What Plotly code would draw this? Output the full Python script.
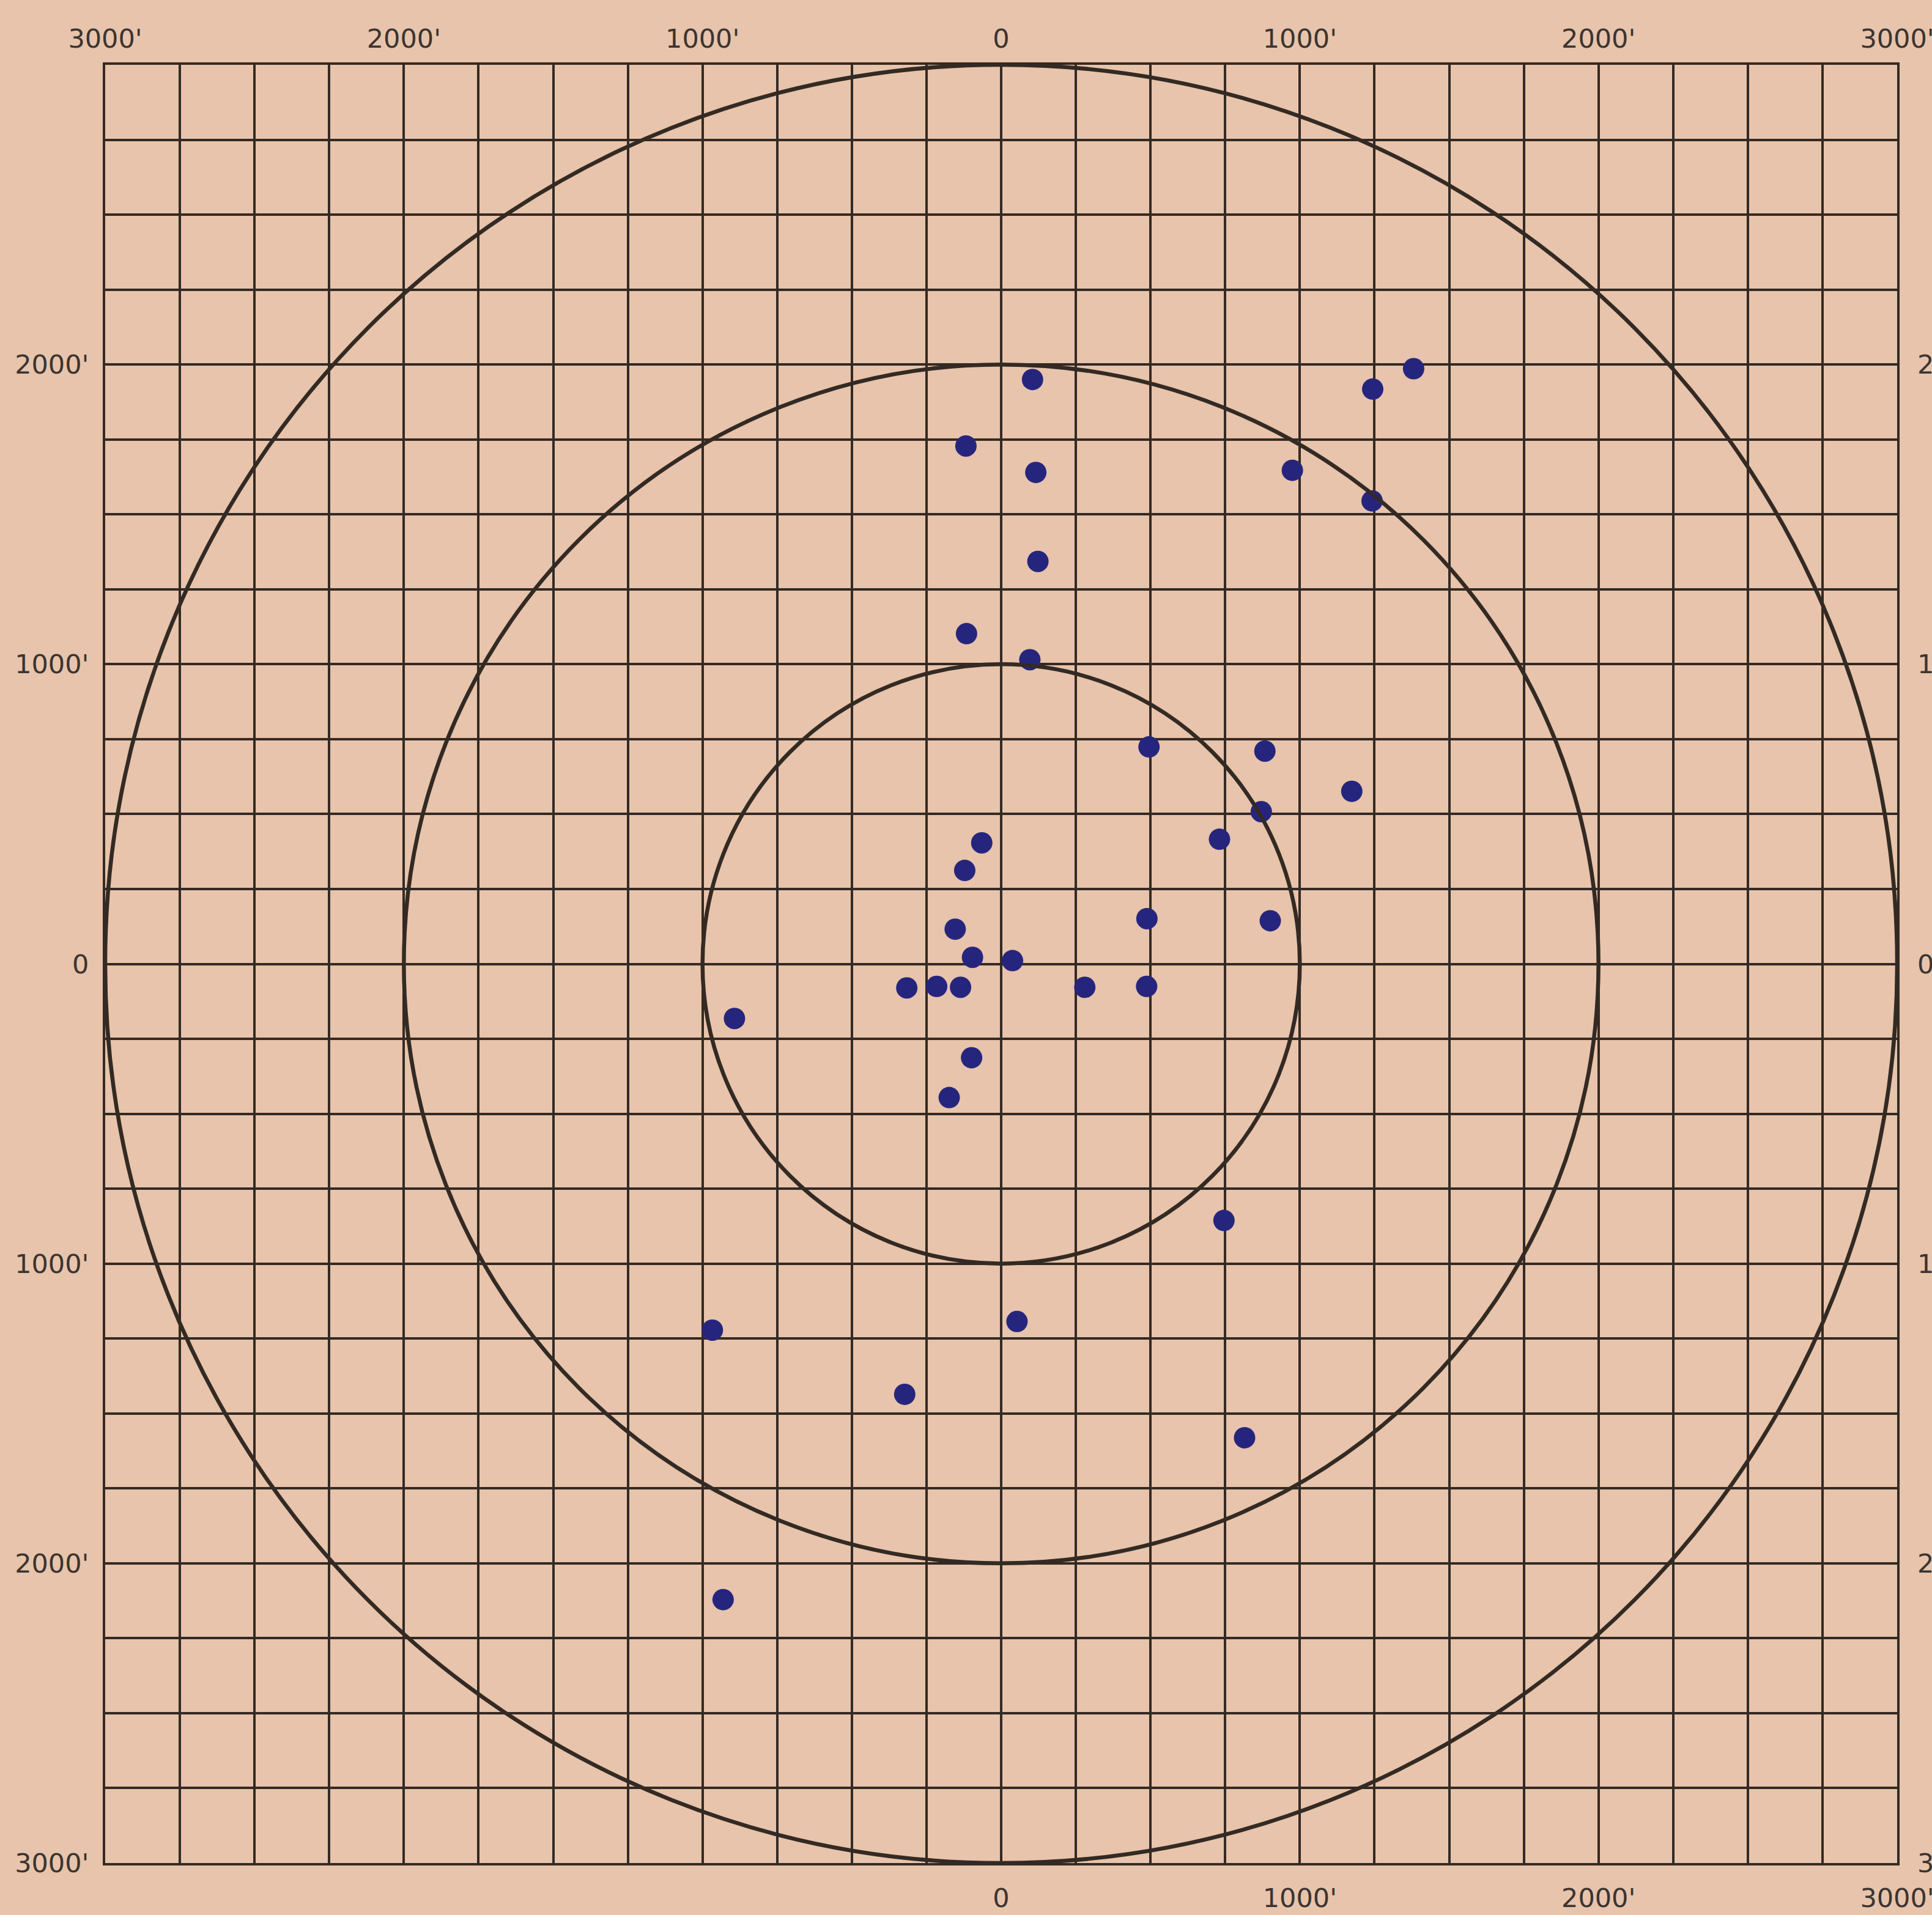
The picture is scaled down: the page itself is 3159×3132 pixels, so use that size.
import plotly.graph_objects as go

# ---- data (feet from target centre) ----
impact_x = [105, -118, 116, 123, -116, 96, 1381, 1244, 975, 1242, 495, 883, 1174, 871, 731,
            -65, -122, 488, 901, -154, -96, 38, -316, -216, -136, 280, 487, -893, -99, -174,
            746, 53, -967, -323, 815, -931]
impact_y = [1950, 1728, 1640, 1343, 1102, 1015, 1986, 1918, 1647, 1545, 724, 710, 576, 508, 416,
            404, 312, 151, 144, 116, 22, 11, -80, -75, -78, -78, -75, -182, -313, -446,
            -856, -1193, -1222, -1436, -1581, -2121]

ring_radii = [1000, 2000, 3000]

top_ticks = [-3000, -2000, -1000, 0, 1000, 2000, 3000]
top_labels = ["3000'", "2000'", "1000'", "0", "1000'", "2000'", "3000'"]
bottom_ticks = [0, 1000, 2000, 3000]
bottom_labels = ["0", "1000'", "2000'", "3000'"]
side_ticks = [2000, 1000, 0, -1000, -2000, -3000]
side_labels = ["2000'", "1000'", "0", "1000'", "2000'", "3000'"]

# ---- style ----
PAPER = "#E7C4AB"
INK = "#342a24"
DOT = "#26257e"
FONT = dict(family="DejaVu Sans", size=43, color="#3b3431")
W, H = 3159, 3132

fig = go.Figure()
fig.add_trace(go.Scatter(x=impact_x, y=impact_y, mode="markers",
                         marker=dict(size=35, color=DOT, line=dict(width=0)),
                         hoverinfo="skip", showlegend=False))
# invisible trace to activate the top / right axes
fig.add_trace(go.Scatter(x=[0], y=[0], xaxis="x2", yaxis="y2", mode="markers",
                         marker=dict(size=1, opacity=0), hoverinfo="skip", showlegend=False))

for r in ring_radii:
    fig.add_shape(type="circle", xref="x", yref="y", x0=-r, y0=-r, x1=r, y1=r,
                  line=dict(color=INK, width=6.5), layer="above")

grid_common = dict(range=[-3000, 3000], showgrid=True, gridcolor=INK, gridwidth=3.5,
                   minor=dict(dtick=250, tick0=0, showgrid=True, gridcolor=INK, gridwidth=3.5),
                   zeroline=False, showline=True, linecolor=INK, linewidth=4, mirror=True,
                   ticks="", tickfont=FONT, fixedrange=True, automargin=False,
                   ticklabeloverflow="allow")

fig.update_layout(
    template="none",
    width=W, height=H, autosize=False,
    margin=dict(l=172, r=57, t=106, b=85, pad=0, autoexpand=False),
    paper_bgcolor=PAPER, plot_bgcolor=PAPER,
    xaxis=dict(**grid_common, tickmode="array", tickvals=bottom_ticks, ticktext=bottom_labels,
               side="bottom", ticklabelstandoff=16),
    yaxis=dict(**grid_common, tickmode="array", tickvals=side_ticks, ticktext=side_labels,
               side="left", ticklabelstandoff=14),
    xaxis2=dict(range=[-3000, 3000], matches="x", overlaying="x", side="top", showgrid=False,
                zeroline=False, showline=False, ticks="", tickmode="array", tickvals=top_ticks,
                ticktext=top_labels, tickfont=FONT, ticklabelstandoff=18, fixedrange=True,
                automargin=False, ticklabeloverflow="allow"),
    yaxis2=dict(range=[-3000, 3000], matches="y", overlaying="y", side="right", showgrid=False,
                zeroline=False, showline=False, ticks="", tickmode="array", tickvals=side_ticks,
                ticktext=side_labels, tickfont=FONT, ticklabelstandoff=32, fixedrange=True,
                automargin=False, ticklabeloverflow="allow"),
    showlegend=False,
)

fig.write_html("out.html", config={"displayModeBar": False},
               post_script="document.body.style.margin='0';document.body.style.overflow='hidden';"
                           "document.body.style.background='%s';" % PAPER)
